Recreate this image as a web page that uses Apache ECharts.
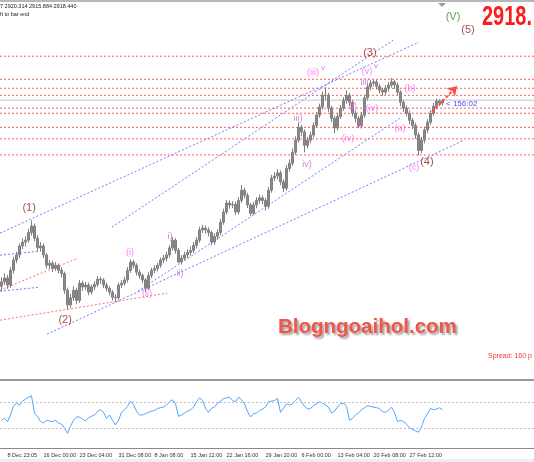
<!DOCTYPE html>
<html><head><meta charset="utf-8">
<script src="https://cdn.jsdelivr.net/npm/echarts@6/dist/echarts.min.js"></script>
<style>html,body{margin:0;padding:0;background:#fff;overflow:hidden}#c{width:534px;height:462px}</style>
</head><body><div id="c"></div>
<script>
// ---- data (XAUUSD) ----
// each bar: [open, close, low, high]
const bars = [
[2628,2635,2620,2642],[2635,2641,2630,2648],[2641,2630,2624,2646],[2630,2653,2626,2658],[2653,2669,2648,2674],
[2669,2677,2664,2682],[2677,2691,2672,2695],[2691,2697,2686,2703],[2697,2700,2690,2706],[2700,2712,2696,2718],
[2712,2722,2707,2731],[2722,2703,2698,2726],[2703,2688,2683,2708],[2688,2691,2682,2697],[2691,2677,2672,2695],
[2677,2661,2656,2680],[2661,2664,2655,2669],[2664,2656,2650,2668],[2656,2661,2652,2666],[2661,2653,2648,2664],
[2653,2648,2642,2658],[2648,2622,2616,2651],[2622,2599,2591,2626],[2599,2610,2594,2616],[2610,2622,2605,2628],
[2622,2606,2600,2626],[2606,2633,2602,2638],[2633,2627,2621,2637],[2627,2630,2622,2635],[2630,2619,2614,2634],
[2619,2627,2615,2631],[2627,2631,2622,2636],[2631,2639,2627,2644],[2639,2638,2632,2643],[2638,2630,2625,2641],
[2630,2625,2620,2634],[2625,2619,2614,2628],[2619,2611,2606,2622],[2611,2610,2603,2616],[2610,2630,2606,2634],
[2630,2633,2625,2638],[2633,2638,2629,2643],[2638,2653,2634,2658],[2653,2666,2649,2670],[2666,2661,2656,2669],
[2661,2650,2645,2664],[2650,2645,2640,2654],[2645,2638,2633,2648],[2638,2625,2619,2641],[2625,2645,2622,2650],
[2645,2653,2641,2657],[2653,2656,2648,2661],[2656,2661,2651,2665],[2661,2669,2657,2673],[2669,2672,2664,2677],
[2672,2677,2667,2682],[2677,2688,2673,2692],[2688,2700,2684,2705],[2700,2684,2679,2703],[2684,2666,2664,2688],
[2666,2672,2662,2677],[2672,2677,2668,2682],[2677,2681,2672,2686],[2681,2684,2676,2690],[2684,2692,2680,2697],
[2692,2700,2687,2705],[2700,2716,2696,2721],[2716,2719,2711,2724],[2719,2716,2710,2723],[2716,2712,2706,2720],
[2712,2697,2692,2715],[2697,2706,2693,2711],[2706,2712,2701,2717],[2712,2728,2708,2733],[2728,2744,2724,2749],
[2744,2758,2740,2763],[2758,2755,2749,2762],[2755,2756,2750,2761],[2756,2744,2739,2760],[2744,2762,2740,2767],
[2762,2778,2758,2786],[2778,2770,2765,2782],[2770,2755,2750,2774],[2755,2742,2738,2758],[2742,2755,2739,2760],
[2755,2762,2750,2767],[2762,2766,2757,2771],[2766,2762,2756,2770],[2762,2753,2746,2766],[2753,2778,2749,2783],
[2778,2797,2774,2802],[2797,2800,2792,2806],[2800,2805,2795,2811],[2805,2791,2786,2809],[2791,2781,2775,2795],
[2781,2812,2777,2817],[2812,2820,2807,2826],[2820,2837,2816,2843],[2837,2856,2833,2862],[2856,2876,2852,2884],
[2876,2869,2862,2880],[2869,2848,2837,2873],[2848,2856,2843,2861],[2856,2864,2851,2869],[2864,2879,2860,2884],
[2879,2895,2875,2900],[2895,2908,2891,2913],[2908,2926,2904,2932],[2926,2926,2918,2939],[2926,2906,2900,2930],
[2906,2890,2884,2910],[2890,2875,2867,2894],[2875,2893,2871,2898],[2893,2906,2889,2911],[2906,2918,2902,2923],
[2918,2926,2913,2934],[2926,2915,2909,2930],[2915,2898,2893,2919],[2898,2890,2884,2902],[2890,2879,2875,2894],
[2879,2895,2876,2900],[2895,2922,2891,2927],[2922,2939,2918,2944],[2939,2945,2934,2950],[2945,2947,2940,2951],
[2947,2940,2935,2950],[2940,2934,2929,2944],[2934,2931,2925,2938],[2931,2937,2927,2942],[2937,2942,2932,2947],
[2942,2947,2938,2953],[2947,2942,2936,2950],[2942,2931,2926,2946],[2931,2915,2909,2934],[2915,2906,2900,2919],
[2906,2898,2893,2910],[2898,2887,2881,2902],[2887,2879,2873,2891],[2879,2864,2858,2883],[2864,2840,2832,2868],
[2840,2856,2836,2861],[2856,2872,2851,2877],[2872,2884,2867,2889],[2884,2898,2880,2903],[2898,2909,2894,2914],
[2909,2917,2904,2921],[2917,2914,2909,2920],[2914,2918,2910,2920]
];
const rsi = [
42,45,40,50,64,68,65,71,74,77,
79,53,48,40,38,42,41,40,42,38,
36,30,22,33,42,47,47,44,41,46,
48,50,55,58,54,45,50,42,35,42,
54,58,63,71,66,56,50,50,52,54,
56,57,60,61,62,65,70,73,67,48,
50,53,56,58,62,70,76,72,60,54,
60,62,68,71,75,76,77,72,70,77,
73,67,55,47,52,53,57,59,62,70,
71,72,75,54,60,67,65,67,72,77,
70,63,59,60,64,67,70,68,65,62,
53,56,62,67,68,63,42,45,50,53,
58,61,64,63,62,61,60,55,54,57,
62,54,40,42,40,36,31,28,26,24,
32,45,52,60,58,59,61,58
];
const slotCount = 178; // bar slots incl. empty chart shift on the right
const tickIndex = [2,14,26,39,51,63,75,88,100,112,124,136];
const tickText = ['8 Dec 23:05','16 Dec 00:00','23 Dec 04:00','31 Dec 08:00','8 Jan 08:00','15 Jan 12:00',
  '22 Jan 16:00','29 Jan 20:00','6 Feb 00:00','13 Feb 04:00','20 Feb 08:00','27 Feb 12:00'];
const levels = [2987,2951,2937,2926,2906,2898,2876,2858,2833];
const bidPrice = 2918.44;
const rsiLevels = [70,30];
// trend lines: [[slot, price],[slot, price]]
const blueLines = [
  [[-0.5,2710.9],[139.2,3008.9]],
  [[36.8,2720.3],[130.5,3012.0]],
  [[15.2,2553.4],[154.2,2856.0]],
  [[45.5,2620.4],[132.8,2890.3]],
  [[-0.5,2676.6],[12.8,2682.8]],
  [[-0.5,2620.4],[12.8,2626.7]]
];
const redLines = [
  [[-0.5,2622.0],[25.5,2671.9]],
  [[-0.5,2575.2],[55.2,2617.3]]
];
const arrowLine = [[143.5,2899.7],[151.8,2940.2]];
// wave labels: [slot, price, text]
const waveMain = [[9.2,2750,'(1)'],[21.2,2575,'(2)'],[122.8,2991.7,'(3)'],[141.8,2821.7,'(4)'],[155.5,3027.6,'(5)']];
const waveGreen = [[150.5,3047.9,'(V)']];
const wavePink = [[42.8,2681.3,'(i)'],[48.5,2617.3,'(ii)'],[103.8,2962.1,'(iii)'],[121.8,2963.6,'(v)'],
  [117.2,2909,'(i)'],[123.5,2906,'(iv)'],[115.5,2859.1,'(iv)'],[136.2,2937.1,'(b)'],[132.8,2874.7,'(a)'],[137.5,2813.9,'(c)']];
const wavePurple = [[56.2,2706.2,'i)'],[59.5,2648.5,'ii)'],[98.8,2890.3,'iii)'],[101.8,2818.6,'iv)'],
  [119.5,2881,'ii)'],[121.2,2946.5,'iii(']];
const waveSup = [[107.2,2968.3,'v'],[124.8,2971.4,'v']];

// ---- chart ----
const slots = Array.from({length: slotCount}, (_, i) => String(i));
const small = "'Liberation Sans',Arial,sans-serif";
const xLo = -0.5, xHi = slotCount - 0.5;
const lineSeries = (pts, color, type, width, z) => ({
  type: 'line', xAxisIndex: 2, yAxisIndex: 0, data: pts, symbol: 'none', silent: true,
  color, lineStyle: {color, width: width || 1, type: type || [2, 2]}, z: z || 3, animation: false
});
const labelSeries = (data, color, size, weight) => ({
  type: 'scatter', xAxisIndex: 2, yAxisIndex: 0, data, symbolSize: 0, silent: true, z: 6,
  label: {show: true, position: 'inside', formatter: p => p.value[2], color, fontSize: size,
    fontFamily: small, fontWeight: weight || 'normal'},
  animation: false
});

const series = [
  {type: 'candlestick', xAxisIndex: 0, yAxisIndex: 0, data: bars, barWidth: 1.6, z: 4,
   itemStyle: {color: '#8a8a8a', color0: '#8a8a8a', borderColor: '#808080', borderColor0: '#808080', borderWidth: 1},
   animation: false, silent: true},
  ...levels.map(v => lineSeries([[xLo, v], [xHi, v]], '#ff5a5a', [2, 2], 1, 2)),
  lineSeries([[xLo, bidPrice], [xHi, bidPrice]], '#c4c4c4', 'solid', 1, 2),
  ...blueLines.map(l => lineSeries(l, '#7878ff')),
  ...redLines.map(l => lineSeries(l, '#ff7070')),
  {type: 'line', xAxisIndex: 2, yAxisIndex: 0, data: [], silent: true, z: 7, color: '#ff4d4d',
   markLine: {silent: true, animation: false, symbol: ['none', 'arrow'], symbolSize: 9, label: {show: false},
     lineStyle: {color: '#ff4d4d', width: 2, type: [3, 2]},
     data: [[{coord: arrowLine[0]}, {coord: arrowLine[1]}]]}},
  labelSeries(waveMain, '#8b1c1c', 11),
  labelSeries(waveGreen, '#2e8b2e', 11),
  labelSeries(wavePink, '#ff5cf0', 9),
  labelSeries(wavePurple, '#c266cc', 9),
  labelSeries(waveSup, '#c266cc', 8),
  {type: 'line', xAxisIndex: 1, yAxisIndex: 1, data: rsi, symbol: 'none', silent: true,
   lineStyle: {color: '#4da6ff', width: 1}, animation: false,
   markLine: {silent: true, symbol: 'none', animation: false, label: {show: false},
     data: rsiLevels.map(v => ({yAxis: v})), lineStyle: {color: '#c0c0c0', width: 1, type: [2, 2]}}}
];

const chart = echarts.init(document.getElementById('c'), null, {renderer: 'canvas'});
chart.setOption({
  animation: false,
  backgroundColor: '#ffffff',
  grid: [
    {left: 0, right: 0, top: 3, height: 375},
    {left: 0, right: 0, top: 382, height: 66}
  ],
  xAxis: [
    {type: 'category', gridIndex: 0, data: slots, show: false},
    {type: 'category', gridIndex: 1, data: slots,
     axisLine: {lineStyle: {color: '#8a8a8a', width: 1}},
     axisTick: {alignWithLabel: true, length: 3, interval: i => tickIndex.includes(i), lineStyle: {color: '#666'}},
     axisLabel: {interval: i => tickIndex.includes(i), align: 'left', margin: 4, color: '#333',
       fontSize: 5.5, fontFamily: small,
       formatter: (v, i) => tickText[tickIndex.indexOf(i)] || ''},
     splitLine: {show: false}},
    {type: 'value', gridIndex: 0, min: xLo, max: xHi, show: false}
  ],
  yAxis: [
    {type: 'value', gridIndex: 0, min: 2485, max: 3070, show: false, splitLine: {show: false}},
    {type: 'value', gridIndex: 1, min: 0, max: 100, show: false, splitLine: {show: false}}
  ],
  series,
  graphic: [
    {type: 'rect', shape: {x: 0, y: 0, width: 534, height: 2}, style: {fill: '#b8b8b8'}, silent: true},
    {type: 'rect', shape: {x: 0, y: 379, width: 534, height: 2}, style: {fill: '#9a9a9a'}, silent: true},
    {type: 'rect', shape: {x: 0, y: 459, width: 534, height: 3}, style: {fill: '#eeeeee'}, silent: true},
    {type: 'polygon', shape: {points: [[438, 3], [446, 3], [442, 7]]}, style: {fill: '#9a9a9a'}, silent: true},
    {type: 'text', x: 0, y: 3, style: {text: '7 2920.314 2915.884 2918.440', fontSize: 5.5, fontFamily: small, fill: '#222'}, silent: true},
    {type: 'text', x: 0, y: 11, style: {text: 'ft to bar end', fontSize: 5.5, fontFamily: small, fill: '#222'}, silent: true},
    {type: 'text', x: 482, y: 4, scaleX: 0.74, style: {text: '2918.', fontSize: 27, fontWeight: 'bold', fontFamily: small, fill: '#ff1a1a'}, silent: true},
    {type: 'text', x: 446, y: 100, style: {text: '< 156:02', fontSize: 8, fontFamily: small, fill: '#4a4aff'}, silent: true},
    {type: 'text', x: 278, y: 317, style: {text: 'Blogngoaihol.com', fontSize: 20.5, fontWeight: 'bold',
      fontFamily: small, fill: '#f0554a', textShadowColor: 'rgba(90,90,90,0.55)',
      textShadowOffsetX: 2, textShadowOffsetY: 2, textShadowBlur: 2}, silent: true},
    {type: 'text', x: 488, y: 353, style: {text: 'Spread: 160 p', fontSize: 7, fontFamily: small, fill: '#ff3333'}, silent: true}
  ]
});
</script>
</body></html>
